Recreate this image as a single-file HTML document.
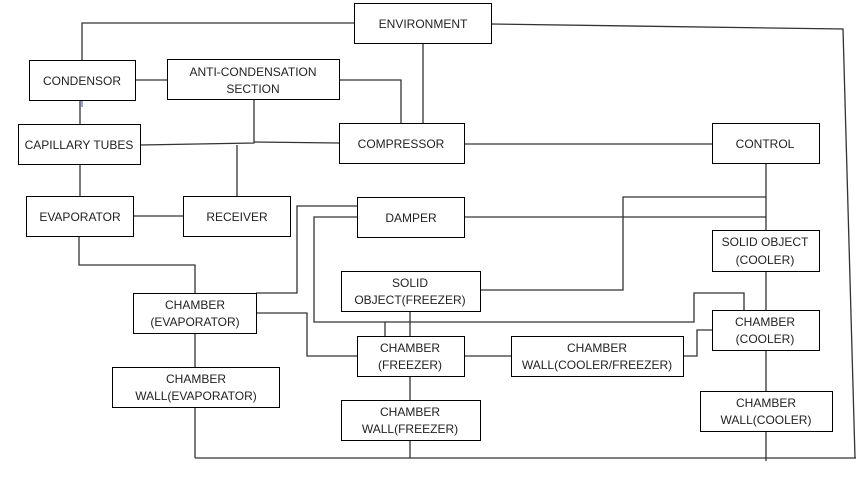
<!DOCTYPE html>
<html><head><meta charset="utf-8"><style>
html,body{margin:0;padding:0;background:#fff;}
svg{display:block;}
text{font-family:"Liberation Sans",sans-serif;font-size:12px;fill:#222;text-anchor:middle;}
rect{fill:#fff;stroke:#000;stroke-width:1;}
line,polyline{stroke:#333;stroke-width:1.3;fill:none;}
</style></head><body>
<svg width="864" height="484" viewBox="0 0 864 484">
<!-- connectors -->
<polyline points="354,23 82,23 82,61"/>
<polyline points="491,24 843,29 855,458"/>
<polyline points="195,458 856,458"/>
<line x1="423" y1="43" x2="423" y2="123"/>
<polyline points="339,80 401,80 401,123"/>
<line x1="136" y1="80" x2="167" y2="80"/>
<line x1="80" y1="85" x2="80" y2="124"/>
<line x1="82" y1="97" x2="82" y2="107" style="stroke:#4a7bd0"/>
<line x1="80" y1="164" x2="80" y2="196"/>
<polyline points="254,99 254,143 140,145"/>
<line x1="254" y1="142" x2="339" y2="143"/>
<line x1="237" y1="145" x2="237" y2="196"/>
<line x1="464" y1="144" x2="712" y2="144"/>
<line x1="133" y1="216" x2="183" y2="216"/>
<polyline points="79,236 79,265 195,265 195,293"/>
<line x1="766" y1="163" x2="766" y2="230"/>
<line x1="464" y1="217" x2="766" y2="217"/>
<polyline points="766,197 623,197 623,290 480,290"/>
<polyline points="357,206 297,206 297,293 256,293"/>
<polyline points="357,217 314,217 314,322 694,322 694,293 744,293 744,310"/>
<line x1="766" y1="271" x2="766" y2="310"/>
<line x1="766" y1="350" x2="766" y2="391"/>
<line x1="766" y1="431" x2="766" y2="461"/>
<line x1="195" y1="333" x2="195" y2="367"/>
<line x1="195" y1="407" x2="195" y2="458"/>
<polyline points="256,313 307,313 307,356 357,356"/>
<line x1="385" y1="322" x2="385" y2="336"/>
<line x1="410" y1="311" x2="410" y2="336"/>
<line x1="464" y1="356" x2="511" y2="356"/>
<polyline points="683,356 697,356 697,330 712,330"/>
<line x1="410" y1="376" x2="410" y2="400"/>
<line x1="410" y1="440" x2="410" y2="458"/>
<!-- boxes -->
<rect x="354.5" y="3.5" width="137" height="40"/><text x="423" y="28">ENVIRONMENT</text>
<rect x="29.5" y="60.5" width="106" height="40"/><text x="82" y="85">CONDENSOR</text>
<rect x="167.5" y="59.5" width="172" height="40"/><text x="253" y="76">ANTI-CONDENSATION</text><text x="253" y="93">SECTION</text>
<rect x="18.5" y="124.5" width="122" height="40"/><text x="79" y="149">CAPILLARY TUBES</text>
<rect x="339.5" y="123.5" width="125" height="40"/><text x="401" y="148">COMPRESSOR</text>
<rect x="712.5" y="123.5" width="107" height="40"/><text x="765" y="148">CONTROL</text>
<rect x="26.5" y="196.5" width="107" height="40"/><text x="80" y="221">EVAPORATOR</text>
<rect x="183.5" y="196.5" width="107" height="40"/><text x="237" y="221">RECEIVER</text>
<rect x="357.5" y="197.5" width="107" height="40"/><text x="411" y="222">DAMPER</text>
<rect x="712.5" y="230.5" width="107" height="41"/><text x="765" y="246">SOLID OBJECT</text><text x="765" y="264">(COOLER)</text>
<rect x="341.5" y="271.5" width="139" height="40"/><text x="410" y="287">SOLID</text><text x="410" y="304">OBJECT(FREEZER)</text>
<rect x="133.5" y="293.5" width="123" height="40"/><text x="195" y="309">CHAMBER</text><text x="195" y="326">(EVAPORATOR)</text>
<rect x="712.5" y="310.5" width="107" height="40"/><text x="765" y="326">CHAMBER</text><text x="765" y="343">(COOLER)</text>
<rect x="357.5" y="336.5" width="107" height="40"/><text x="410" y="352">CHAMBER</text><text x="410" y="369">(FREEZER)</text>
<rect x="511.5" y="336.5" width="172" height="40"/><text x="597" y="352">CHAMBER</text><text x="597" y="369">WALL(COOLER/FREEZER)</text>
<rect x="112.5" y="367.5" width="167" height="40"/><text x="196" y="383">CHAMBER</text><text x="196" y="400">WALL(EVAPORATOR)</text>
<rect x="341.5" y="400.5" width="139" height="40"/><text x="410" y="416">CHAMBER</text><text x="410" y="433">WALL(FREEZER)</text>
<rect x="700.5" y="391.5" width="132" height="40"/><text x="766" y="407">CHAMBER</text><text x="766" y="424">WALL(COOLER)</text>
</svg>
</body></html>
